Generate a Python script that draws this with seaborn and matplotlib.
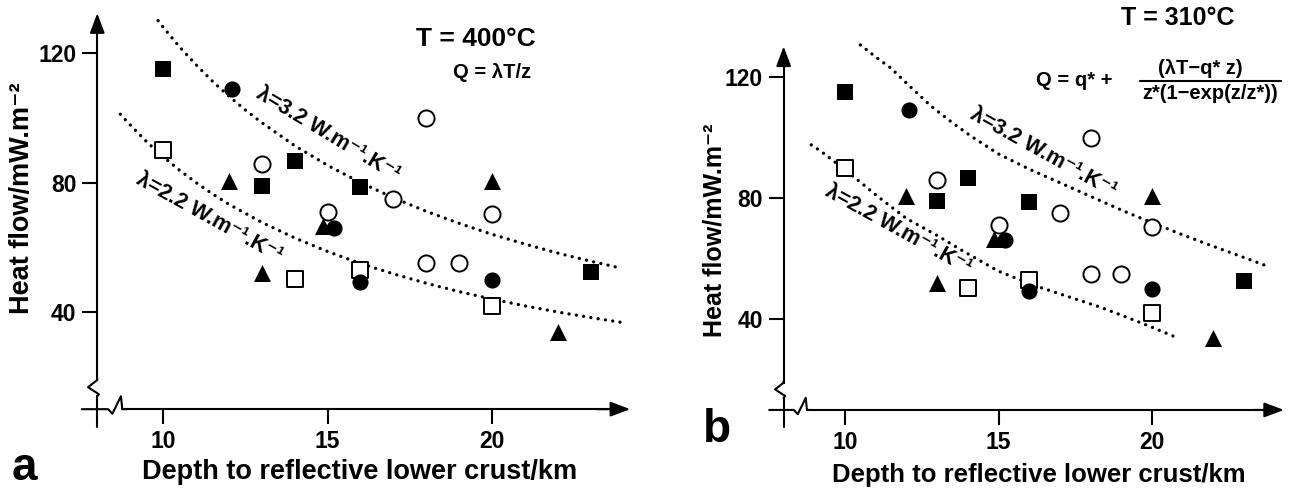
import matplotlib
matplotlib.use('Agg')
import matplotlib.pyplot as plt
import seaborn as sns

sns.set_theme(style='white')
plt.rcParams['font.family'] = ['Liberation Sans', 'DejaVu Sans']
plt.rcParams['font.weight'] = 'bold'
plt.rcParams['text.color'] = 'black'
plt.rcParams['axes.labelcolor'] = 'black'

# heat flow data (depth km, heat flow mW/m2) - same in both panels
depth_filled_sq = [10, 13, 14, 16, 23]
hf_filled_sq = [115, 79, 86.5, 78.5, 52.5]
depth_filled_ci = [12.1, 15.2, 16, 20]
hf_filled_ci = [109, 66, 49.2, 50]
depth_open_ci = [13, 15, 17, 18, 18, 19, 20]
hf_open_ci = [85.8, 71, 75, 99.8, 55, 55, 70.4]
depth_open_sq = [10, 14, 16, 20]
hf_open_sq = [90, 50.3, 53, 42]
depth_tri = [12, 13, 14.85, 20, 22]
hf_tri = [80.5, 52, 66.5, 80.5, 33.8]

# dotted conductivity curves, panel a (T = 400 C)
a_hi_depth = [9.85, 10, 10.5, 11, 11.5, 12, 12.5, 13, 14, 15, 16, 17, 18, 19, 20, 21, 22, 23, 23.9]
a_hi_q = [130.0, 128.0, 121.9, 116.4, 111.3, 106.7, 102.4, 98.5, 91.4, 85.3, 80.0, 75.3, 71.1, 67.4,
          64.0, 61.0, 58.2, 55.7, 53.6]
a_lo_depth = [8.7, 9, 9.5, 10, 10.5, 11, 11.5, 12, 13, 14, 15, 16, 17, 18, 19, 20, 21, 22, 23, 24]
a_lo_q = [101.1, 97.8, 92.6, 88.0, 83.8, 80.0, 76.5, 73.3, 67.7, 62.9, 58.7, 55.0, 51.8, 48.9, 46.3,
          44.0, 41.9, 40.0, 38.3, 36.7]
# panel b (T = 310 C)
b_hi_depth = [10.5, 11, 11.5, 12, 12.8, 13.5, 14.1, 15, 16, 17, 18, 19, 20, 21, 22, 23, 23.75]
b_hi_q = [130.5, 126.5, 122.8, 117.9, 110.3, 104.8, 100.4, 94.5, 89.5, 85.0, 80.5, 76.0, 71.8, 67.8,
          64.0, 60.3, 57.5]
b_lo_depth = [8.9, 9.2, 9.8, 10.5, 11, 11.6, 12, 13, 13.75, 15, 16.2, 17, 18.3, 19, 20, 20.85]
b_lo_q = [97.5, 95.5, 90.8, 85.2, 81.0, 76.3, 73.2, 67.6, 63.0, 55.8, 51.0, 48.3, 44.0, 41.3, 37.3, 33.7]

x_ticks = [10, 15, 20]
y_ticks = [40, 80, 120]
curve_labels = ['\u03bb=3.2 W.m\u207b\u00b9.K\u207b\u00b9', '\u03bb=2.2 W.m\u207b\u00b9.K\u207b\u00b9']

ARROW = dict(arrowstyle='-|>,head_length=0.8,head_width=0.3', color='black', lw=1.5,
             mutation_scale=15, shrinkA=0, shrinkB=0)


def draw_panel(ax, hi_d, hi_q, lo_d, lo_q, xend, ytop):
    dots = dict(color='black', lw=2.4, linestyle=(0, (0.01, 2.2)), dash_capstyle='round')
    sns.lineplot(x=hi_d, y=hi_q, ax=ax, **dots)
    sns.lineplot(x=lo_d, y=lo_q, ax=ax, **dots)

    sns.scatterplot(x=depth_open_sq, y=hf_open_sq, marker='s', s=140, color='white',
                    edgecolor='black', linewidth=1.4, ax=ax, zorder=3)
    sns.scatterplot(x=depth_open_ci, y=hf_open_ci, marker='o', s=135, color='white',
                    edgecolor='black', linewidth=1.4, ax=ax, zorder=3)
    sns.scatterplot(x=depth_tri, y=hf_tri, marker='^', s=150, color='black',
                    edgecolor='black', linewidth=0, ax=ax, zorder=4)
    sns.scatterplot(x=depth_filled_ci, y=hf_filled_ci, marker='o', s=135, color='black',
                    edgecolor='black', linewidth=0, ax=ax, zorder=4)
    sns.scatterplot(x=depth_filled_sq, y=hf_filled_sq, marker='s', s=140, color='black',
                    edgecolor='black', linewidth=0, ax=ax, zorder=4)

    ax.set_ylim(4, 134)
    ax.set_xticks(x_ticks)
    ax.set_yticks(y_ticks)
    for s in ['top', 'right']:
        ax.spines[s].set_visible(False)
    ax.spines['left'].set_position(('data', 8.0))
    ax.spines['bottom'].set_position(('data', 10.0))
    ax.spines['left'].set_bounds(19, ytop - 2)
    ax.spines['bottom'].set_bounds(8.76, xend - 0.5)
    for s in ['left', 'bottom']:
        ax.spines[s].set_color('black')
        ax.spines[s].set_linewidth(1.5)
    ax.tick_params(axis='both', bottom=True, left=True, direction='out', length=11,
                   width=1.5, colors='black', labelcolor='black', labelsize=16.5, pad=4)
    ax.patch.set_alpha(0)

    # axis breaks and arrows
    kw = dict(color='black', lw=1.5, clip_on=False)
    ax.plot([8.0, 8.0], [14.0, 4.5], **kw)
    ax.plot([8.0, 8.0, 7.72, 8.05, 8.0], [19.5, 19.0, 16.8, 14.6, 14.0], **kw)
    ax.plot([7.53, 8.33, 8.46, 8.72, 8.76, 8.9], [10, 10, 8.6, 14.0, 10.0, 10.0], **kw)
    ax.annotate('', xy=(8.0, ytop), xytext=(8.0, ytop - 6), arrowprops=ARROW, annotation_clip=False)
    ax.annotate('', xy=(xend, 10), xytext=(xend - 1, 10), arrowprops=ARROW, annotation_clip=False)


fig = plt.figure(figsize=(12.9, 4.9), dpi=100)
ax_a = fig.add_axes([0.0601, 0.1253, 0.431, 0.859])
ax_a.set_xlim(7.4, 24.3)
draw_panel(ax_a, a_hi_depth, a_hi_q, a_lo_depth, a_lo_q, 24.2, 132.3)

ax_b = fig.add_axes([0.5932, 0.1263, 0.4057, 0.8037])
ax_b.set_xlim(7.4, 24.45)
draw_panel(ax_b, b_hi_depth, b_hi_q, b_lo_depth, b_lo_q, 24.3, 130.0)

# panel a annotations
ax_a.text(19.51, 124.2, 'T = 400\u00b0C', ha='center', va='center', size=19)
ax_a.text(20.0, 114.1, 'Q = \u03bbT/z', ha='center', va='center', size=14.5)
ax_a.text(15.0, 95.0, curve_labels[0], ha='center', va='center', size=15.5,
          rotation=-31, rotation_mode='anchor')
ax_a.text(11.4, 69.0, curve_labels[1], ha='center', va='center', size=15.5,
          rotation=-29, rotation_mode='anchor')

# panel b annotations
ax_b.text(20.85, 139.5, 'T = 310\u00b0C', ha='center', va='center', size=18, clip_on=False)
ax_b.text(16.22, 118.6, 'Q = q* +', ha='left', va='center', size=14.5)
ax_b.text(21.56, 122.6, '(\u03bbT\u2212q* z)', ha='center', va='center', size=14.5)
ax_b.plot([19.6, 24.2], [118.6, 118.6], color='black', lw=1.5, clip_on=False)
ax_b.text(21.9, 114.6, 'z*(1\u2212exp(z/z*))', ha='center', va='center', size=14.5, clip_on=False)
ax_b.text(16.47, 95.0, curve_labels[0], ha='center', va='center', size=15.5,
          rotation=-29, rotation_mode='anchor')
ax_b.text(11.73, 69.4, curve_labels[1], ha='center', va='center', size=15.5,
          rotation=-29, rotation_mode='anchor')

# axis titles and panel letters
fig.text(0.279, 0.0367, 'Depth to reflective lower crust/km', ha='center', va='center', size=19.5)
fig.text(0.8054, 0.0306, 'Depth to reflective lower crust/km', ha='center', va='center', size=18.5)
fig.text(0.0171, 0.596, 'Heat flow/mW.m\u207b\u00b2', rotation=90, ha='center', va='center', size=19.5)
fig.text(0.5535, 0.5306, 'Heat flow/mW.m\u207b\u00b2', rotation=90, ha='center', va='center', size=18)
fig.text(0.0186, 0.0449, 'a', ha='center', va='center', size=33)
fig.text(0.5558, 0.1224, 'b', ha='center', va='center', size=33)

fig.savefig('out.png', dpi=100)
